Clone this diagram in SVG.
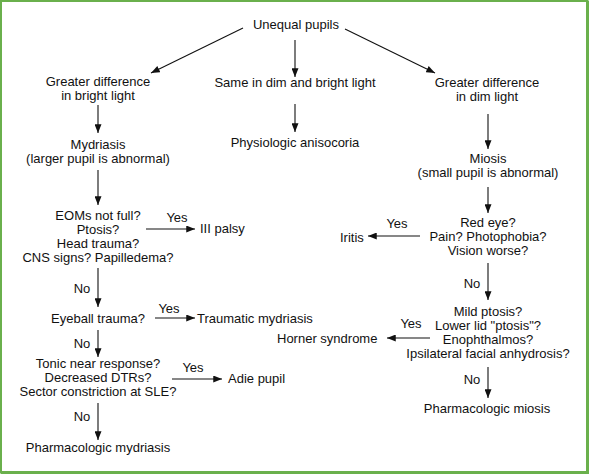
<svg xmlns="http://www.w3.org/2000/svg" width="589" height="474" viewBox="0 0 589 474">
<style>
text{font-family:"Liberation Sans",Arial,sans-serif;font-size:13px;fill:#111;text-anchor:middle}
.l{text-anchor:start}
.c line{stroke:#111;stroke-width:1.1;marker-end:url(#ah)}
</style>
<defs>
<marker id="ah" viewBox="0 0 10 8" refX="10" refY="4" markerWidth="9" markerHeight="7" markerUnits="userSpaceOnUse" orient="auto">
<path d="M0,0 L10,4 L0,8 Z" fill="#111"/>
</marker>
</defs>
<rect x="0" y="0" width="589" height="474" fill="#fff"/>
<path d="M1,1 H587.5 V472.5 H1 Z" fill="none" stroke="#6ab04c" stroke-width="2"/>
<path d="M587.5,1 V472.5 H1" fill="none" stroke="#6ab04c" stroke-width="3"/>
<g class="c" id="connectors">
<line x1="243" y1="28" x2="151" y2="73"/>
<line x1="295" y1="40" x2="295" y2="77"/>
<line x1="345" y1="29" x2="435" y2="73"/>
<line x1="98" y1="105" x2="98" y2="133"/>
<line x1="295" y1="104" x2="295" y2="132"/>
<line x1="488" y1="114" x2="488" y2="149"/>
<line x1="98" y1="170" x2="98" y2="205"/>
<line x1="146" y1="229" x2="195" y2="229"/>
<line x1="98" y1="268" x2="98" y2="307"/>
<line x1="155" y1="318" x2="195" y2="318"/>
<line x1="98" y1="330" x2="98" y2="357"/>
<line x1="172" y1="379" x2="222" y2="379"/>
<line x1="98" y1="403" x2="98" y2="440"/>
<line x1="488" y1="187" x2="488" y2="213"/>
<line x1="420" y1="236" x2="368" y2="236"/>
<line x1="488" y1="263" x2="488" y2="300"/>
<line x1="430" y1="338" x2="387" y2="338"/>
<line x1="488" y1="367" x2="488" y2="398"/>
<text x="177" y="222">Yes</text>
<text x="82" y="293">No</text>
<text x="169" y="313">Yes</text>
<text x="82" y="348">No</text>
<text x="193" y="372">Yes</text>
<text x="82" y="421">No</text>
<text x="397" y="228">Yes</text>
<text x="472" y="288">No</text>
<text x="411" y="328">Yes</text>
<text x="472" y="384">No</text>
</g>
<g id="n-unequal"><text x="296" y="29">Unequal pupils</text></g>
<g id="n-bright"><text x="98" y="86">Greater difference</text><text x="98" y="100">in bright light</text></g>
<g id="n-same"><text x="295" y="87">Same in dim and bright light</text></g>
<g id="n-dim"><text x="487" y="87">Greater difference</text><text x="487" y="101">in dim light</text></g>
<g id="n-mydriasis"><text x="98" y="149">Mydriasis</text><text x="98" y="163">(larger pupil is abnormal)</text></g>
<g id="n-physio"><text x="295" y="147">Physiologic anisocoria</text></g>
<g id="n-miosis"><text x="488" y="163">Miosis</text><text x="488" y="177">(small pupil is abnormal)</text></g>
<g id="n-eoms"><text x="98" y="220">EOMs not full?</text><text x="98" y="234">Ptosis?</text><text x="98" y="248">Head trauma?</text><text x="98" y="262">CNS signs? Papilledema?</text></g>
<g id="n-iii"><text class="l" x="200" y="233">III palsy</text></g>
<g id="n-eyeball"><text x="98" y="323">Eyeball trauma?</text></g>
<g id="n-traumatic"><text class="l" x="197" y="323">Traumatic mydriasis</text></g>
<g id="n-tonic"><text x="98" y="368">Tonic near response?</text><text x="98" y="382">Decreased DTRs?</text><text x="98" y="396">Sector constriction at SLE?</text></g>
<g id="n-adie"><text class="l" x="228" y="383">Adie pupil</text></g>
<g id="n-pharm-myd"><text x="98" y="452">Pharmacologic mydriasis</text></g>
<g id="n-redeye"><text x="488" y="227">Red eye?</text><text x="488" y="241">Pain? Photophobia?</text><text x="488" y="255">Vision worse?</text></g>
<g id="n-iritis"><text class="l" x="340" y="242">Iritis</text></g>
<g id="n-ptosis"><text x="488" y="316">Mild ptosis?</text><text x="488" y="330">Lower lid "ptosis"?</text><text x="488" y="344">Enophthalmos?</text><text x="488" y="358">Ipsilateral facial anhydrosis?</text></g>
<g id="n-horner"><text class="l" x="277" y="343">Horner syndrome</text></g>
<g id="n-pharm-mio"><text x="487" y="413">Pharmacologic miosis</text></g>
</svg>
